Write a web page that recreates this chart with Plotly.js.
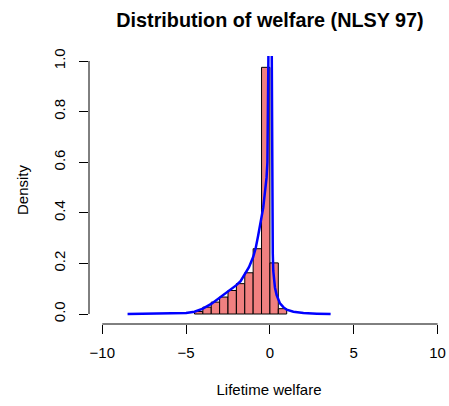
<!DOCTYPE html>
<html>
<head>
<meta charset="utf-8">
<script src="https://cdn.plot.ly/plotly-3.0.1.min.js"></script>
<style>html,body{margin:0;padding:0;background:#fff;}#chart{width:449px;height:406px;}</style>
</head>
<body>
<div id="chart"></div>
<script>
// Histogram bins (left edges, width 0.5) and densities
var binStarts = [-4.5, -4.0, -3.5, -3.0, -2.5, -2.0, -1.5, -1.0, -0.5, 0.0, 0.5];
var binWidth = 0.5;
var binDensity = [0.010, 0.027, 0.047, 0.067, 0.093, 0.120, 0.163, 0.258, 0.975, 0.202, 0.021];

// Kernel density curve
var densX = [-8.49, -7.5, -6.5, -6.0, -5.5, -5.0, -4.5, -4.0, -3.5, -3.0, -2.5, -2.0, -1.75, -1.5, -1.25, -1.0, -0.85, -0.7, -0.55, -0.4, -0.3, -0.2, -0.15, -0.1, -0.07, 0.02, 0.11, 0.12, 0.14, 0.17, 0.2, 0.25, 0.3, 0.4, 0.5, 0.6, 0.8, 1.0, 1.4, 2.0, 2.8, 3.62];
var densY = [0.0, 0.0003, 0.001, 0.0015, 0.0025, 0.004, 0.009, 0.021, 0.040, 0.064, 0.088, 0.114, 0.130, 0.155, 0.185, 0.225, 0.260, 0.310, 0.360, 0.420, 0.480, 0.540, 0.600, 0.850, 1.020, 1.800, 1.020, 0.600, 0.340, 0.240, 0.170, 0.130, 0.105, 0.075, 0.055, 0.042, 0.027, 0.017, 0.009, 0.004, 0.0015, 0.0];

var xTicks = [-10, -5, 0, 5, 10];
var yTicks = [0.0, 0.2, 0.4, 0.6, 0.8, 1.0];

var titleText = "Distribution of welfare (NLSY 97)";
var xTitle = "Lifetime welfare";
var yTitle = "Density";

var binMid = binStarts.map(function (s) { return s + binWidth / 2; });

var traces = [
  {
    type: "bar",
    x: binMid,
    y: binDensity,
    width: binWidth,
    marker: { color: "#F08080", line: { color: "#000000", width: 1 } },
    hoverinfo: "x+y"
  },
  {
    type: "scatter",
    mode: "lines",
    x: densX,
    y: densY,
    line: { color: "#0000FF", width: 2.5 },
    hoverinfo: "x+y"
  }
];

var font = "Liberation Sans, Arial, Helvetica, sans-serif";

var layout = {
  width: 449,
  height: 406,
  margin: { l: 89, r: 0, t: 56, b: 82, pad: 0 },
  paper_bgcolor: "#ffffff",
  plot_bgcolor: "#ffffff",
  showlegend: false,
  bargap: 0,
  font: { family: font, size: 15, color: "#000000" },
  title: {
    text: "<b>" + titleText + "</b>",
    font: { family: font, size: 19.8, color: "#000000" },
    xref: "container", yref: "container",
    x: 270 / 449, xanchor: "center",
    y: 1 - 20 / 406, yanchor: "middle"
  },
  xaxis: {
    range: [-10.79, 10.68],
    tickmode: "array",
    tickvals: xTicks,
    ticks: "outside",
    ticklen: 9,
    tickwidth: 1,
    tickcolor: "#000000",
    showgrid: false,
    zeroline: false,
    showline: false,
    ticklabelstandoff: 6,
    tickfont: { family: font, size: 15, color: "#000000" },
    title: { text: xTitle, font: { family: font, size: 15, color: "#000000" }, standoff: 24 }
  },
  yaxis: {
    range: [-0.0395, 1.0198],
    tickmode: "array",
    tickvals: yTicks,
    tickformat: ".1f",
    tickangle: -90,
    ticks: "outside",
    ticklen: 9,
    tickwidth: 1,
    tickcolor: "#000000",
    showgrid: false,
    zeroline: false,
    showline: false,
    ticklabelstandoff: 8,
    tickfont: { family: font, size: 15, color: "#000000" },
    title: { text: yTitle, font: { family: font, size: 15, color: "#000000" }, standoff: 18 }
  },
  shapes: [
    {
      type: "line", xref: "x", yref: "paper",
      x0: xTicks[0], x1: xTicks[xTicks.length - 1], y0: 0, y1: 0,
      line: { color: "#000000", width: 1 }
    },
    {
      type: "line", xref: "paper", yref: "y",
      x0: 0, x1: 0, y0: yTicks[0], y1: yTicks[yTicks.length - 1],
      line: { color: "#000000", width: 1 }
    }
  ]
};

Plotly.newPlot("chart", traces, layout, { displayModeBar: false, staticPlot: true });
</script>
</body>
</html>
